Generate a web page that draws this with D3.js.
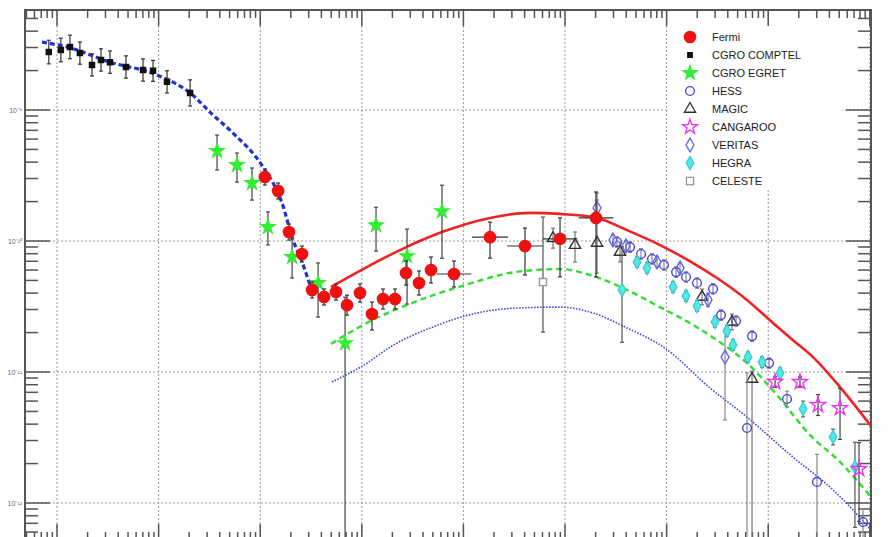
<!DOCTYPE html>
<html>
<head>
<meta charset="utf-8" />
<title>Crab SED</title>
<style>
  body { margin: 0; background: #fff; }
  svg { display: block; }
  .grid line { stroke: #9a9a9a; stroke-width: 1; stroke-dasharray: 2,2; }
  .axis line { stroke: #555; stroke-width: 1.5; }
  .frame { fill: none; stroke: #555; stroke-width: 2; }
  .legend text { font: 11px "Liberation Sans", Arial, sans-serif; fill: #222; }
  .ylab { font: 7px "Liberation Sans", Arial, sans-serif; fill: #666; }
</style>
</head>
<body>
<svg id="chart" width="895" height="537"></svg>
<script src="https://cdn.jsdelivr.net/npm/d3@7"></script>
<script>
// energy in MeV, E^2 dN/dE in erg cm^-2 s^-1, errors in dex
var xLimits = [0.484, 1.027e8];
var yLimits = [5.22e-13, 5.80e-9];

var comptelE = [0.83, 1.09, 1.34, 1.68, 2.21, 2.71, 3.32, 4.77, 7.02, 8.81, 12.1, 20.4];
var comptelF = [2.77e-9, 2.87e-9, 3.03e-9, 2.72e-9, 2.21e-9, 2.41e-9, 2.32e-9, 2.13e-9, 2.02e-9, 1.99e-9, 1.64e-9, 1.35e-9];
var comptelUp = [0.09, 0.09, 0.09, 0.085, 0.085, 0.085, 0.085, 0.085, 0.085, 0.08, 0.085, 0.1];
var comptelDn = comptelUp;

var egretE = [37.6, 59.1, 83.0, 119, 206, 371, 684, 1380, 2786, 6152];
var egretF = [4.86e-10, 3.80e-10, 2.77e-10, 1.28e-10, 7.55e-11, 4.78e-11, 1.66e-11, 1.32e-10, 7.67e-11, 1.69e-10];
var egretUp = [0.122, 0.092, 0.115, 0.115, 0.145, 0.153, 0.351, 0.137, 0.206, 0.198];
var egretDn = [0.145, 0.130, 0.130, 0.137, 0.160, 0.260, 2.0, 0.198, 0.366, 0.359];

var fermiE = [111, 150, 192, 258, 324, 425, 557, 715, 960, 1259, 1617, 2123, 2723, 3656, 4797, 8075, 18270, 40370, 89300, 201800];
var fermiF = [3.08e-10, 2.41e-10, 1.17e-10, 7.96e-11, 4.23e-11, 3.74e-11, 4.08e-11, 3.24e-11, 4.01e-11, 2.77e-11,
              3.61e-11, 3.61e-11, 5.70e-11, 4.78e-11, 6.01e-11, 5.60e-11, 1.07e-10, 9.16e-11, 1.04e-10, 1.50e-10];
var fermiUp = [0.061, 0.061, 0.061, 0.061, 0.061, 0.061, 0.061, 0.076, 0.069, 0.092, 0.076, 0.076, 0.092, 0.092, 0.099, 0.099, 0.115, 0.137, 0.160, 0.198];
var fermiDn = [0.061, 0.061, 0.061, 0.061, 0.061, 0.061, 0.061, 0.076, 0.069, 0.122, 0.076, 0.076, 0.092, 0.092, 0.099, 0.099, 0.160, 0.221, 0.290, 0.450];
var fermiEerr = [0, 0, 0, 0, 0, 0, 0, 0, 0, 0, 0, 0, 0, 0, 0, 0.17, 0.177, 0.177, 0.17, 0.17];

var hessE = [325000, 436500, 559800, 717800, 941900, 1.239e6, 1.553e6, 1.991e6, 2.864e6, 3.430e6, 4.818e6, 6.18e6, 6.934e6, 1.019e7, 1.531e7, 3.02e7, 8.57e7];
var hessF = [9.82e-11, 8.99e-11, 7.96e-11, 7.29e-11, 6.56e-11, 5.79e-11, 5.31e-11, 4.78e-11, 4.31e-11, 2.72e-11, 2.45e-11, 3.74e-12, 1.88e-11, 1.17e-11, 6.22e-12, 1.45e-12, 7.16e-13];
var hessUp = [0.04, 0.04, 0.04, 0.04, 0.04, 0.04, 0.04, 0.04, 0.04, 0.04, 0.04, 0.42, 0.04, 0.04, 0.06, 0.21, 0.1];
var hessDn = [0.04, 0.04, 0.04, 0.04, 0.04, 0.04, 0.04, 0.04, 0.04, 0.04, 0.04, 1.5, 0.04, 0.04, 0.06, 1.5, 0.3];

var magicE = [76200, 125400, 206500, 347600, 2.23e6, 4.40e6, 6.93e6];
var magicF = [1.05e-10, 9.31e-11, 9.66e-11, 8.24e-11, 3.74e-11, 2.41e-11, 8.85e-12];
var magicUp = [0.076, 0.10, 0.38, 0.076, 0.06, 0.06, 0.06];
var magicDn = [0.076, 0.13, 0.23, 0.076, 0.06, 0.06, 1.5];

var cangarooE = [1.167e7, 2.055e7, 3.09e7, 5.09e7, 7.83e7];
var cangarooF = [8.39e-12, 8.39e-12, 5.60e-12, 5.31e-12, 1.82e-12];
var cangarooUp = [0.04, 0.04, 0.08, 0.15, 0.2];
var cangarooDn = [0.04, 0.04, 0.08, 0.24, 0.4];

var veritasE = [206500, 296500, 398100, 805400, 1.355e6, 2.553e6, 3.758e6];
var veritasF = [1.79e-10, 1.02e-10, 9.16e-11, 6.92e-11, 6.22e-11, 3.55e-11, 1.30e-11];
var veritasUp = [0.06, 0.04, 0.04, 0.04, 0.04, 0.05, 0.21];
var veritasDn = [0.06, 0.04, 0.04, 0.04, 0.04, 0.05, 0.48];

var hegraE = [364000, 511600, 641300, 1.157e6, 1.553e6, 1.991e6, 2.994e6, 3.926e6, 4.506e6, 6.326e6, 8.69e6, 1.306e7, 2.202e7, 4.345e7, 7.14e7];
var hegraF = [4.23e-11, 6.92e-11, 6.22e-11, 4.46e-11, 3.80e-11, 3.19e-11, 2.41e-11, 2.06e-11, 1.61e-11, 1.30e-11, 1.19e-11, 9.82e-12, 5.22e-12, 3.19e-12, 1.88e-12];
var hegraUp = [0.33, 0.04, 0.04, 0.04, 0.04, 0.04, 0.04, 0.04, 0.04, 0.04, 0.04, 0.04, 0.06, 0.06, 0.19];
var hegraDn = [0.40, 0.04, 0.04, 0.04, 0.04, 0.04, 0.04, 0.04, 0.04, 0.04, 0.04, 0.04, 0.06, 0.06, 0.46];

var celesteE = [60700];
var celesteF = [4.86e-11];
var celesteUp = [0.496];
var celesteDn = [0.382];

// model curves
var synchE = [0.711, 1.25, 3.32, 9.64, 20.4, 34.3, 54.0, 106.6, 164, 210, 258, 309];
var synchF = [3.30e-9, 3.03e-9, 2.32e-9, 1.85e-9, 1.35e-9, 9.16e-10, 6.67e-10, 3.67e-10, 1.95e-10, 1.02e-10, 6.92e-11, 4.61e-11];

var icE = [497, 1075, 2377, 6152, 18270, 45290, 89300, 206500, 407400, 861000, 1.82e6, 3.133e6, 6.18e6, 1.114e7, 1.754e7, 2.76e7, 5.09e7, 1.028e8];
var icF = [4.46e-11, 6.22e-11, 8.53e-11, 1.17e-10, 1.50e-10, 1.64e-10, 1.61e-10, 1.50e-10, 1.21e-10, 9.31e-11, 6.79e-11, 5.22e-11, 3.55e-11, 2.37e-11, 1.75e-11, 1.30e-11, 7.67e-12, 3.87e-12];

var icMidE = [497, 1125, 3491, 10370, 32210, 89300, 188800, 407400, 861000, 1.82e6, 3.133e6, 6.18e6, 1.222e7, 2.578e7, 5.09e7, 1.028e8];
var icMidF = [1.64e-11, 2.37e-11, 3.48e-11, 4.61e-11, 5.79e-11, 6.11e-11, 5.41e-11, 4.23e-11, 3.13e-11, 2.29e-11, 1.75e-11, 1.17e-11, 6.67e-12, 3.30e-12, 2.06e-12, 1.11e-12];

var icLowE = [509, 1125, 1896, 5023, 13610, 33730, 89300, 188800, 407400, 964000, 2.673e6, 6.18e6, 1.754e7, 4.345e7, 1.028e8];
var icLowF = [8.39e-12, 1.17e-11, 1.55e-11, 2.21e-11, 2.82e-11, 3.08e-11, 3.13e-11, 2.82e-11, 2.17e-11, 1.52e-11, 7.55e-12, 4.53e-12, 2.24e-12, 1.26e-12, 6.22e-13];

var legendNames = ["Fermi", "CGRO COMPTEL", "CGRO EGRET", "HESS", "MAGIC", "CANGAROO", "VERITAS", "HEGRA", "CELESTE"];

var svg = d3.select("#chart");
var frame = {left: 25, right: 871, top: 10, bottom: 540};

var x = d3.scaleLog().domain(xLimits).range([frame.left, frame.right]);
var y = d3.scaleLog().domain(yLimits).range([frame.bottom, frame.top]);

function logTicks(dom) {
    var out = [];
    for (var k = Math.floor(Math.log10(dom[0])); k <= Math.ceil(Math.log10(dom[1])); k++) {
        for (var m = 1; m <= 9; m++) {
            var v = m * Math.pow(10, k);
            if (v >= dom[0] && v <= dom[1]) out.push({v: v, major: m === 1});
        }
    }
    return out;
}
var xt = logTicks(xLimits), yt = logTicks(yLimits);

// grid
var grid = svg.append("g").attr("class", "grid");
grid.selectAll(".gx").data(xt.filter(d => d.major)).enter().append("line")
    .attr("x1", d => x(d.v)).attr("x2", d => x(d.v))
    .attr("y1", frame.top).attr("y2", frame.bottom);
grid.selectAll(".gy").data(yt.filter(d => d.major)).enter().append("line")
    .attr("x1", frame.left).attr("x2", frame.right)
    .attr("y1", d => y(d.v)).attr("y2", d => y(d.v));

// legend box (white, covers grid)
var leg = svg.append("g").attr("class", "legend");
leg.append("rect").attr("x", 668).attr("y", 26).attr("width", 174).attr("height", 164).attr("fill", "#fff");

// axes ticks
var ax = svg.append("g").attr("class", "axis");
var ylen = {major: 25, minor: 13}, xlen = {major: 16, minor: 8};
ax.selectAll(".tl").data(yt).enter().append("line")
    .attr("x1", frame.left).attr("x2", d => frame.left + (d.major ? ylen.major : ylen.minor))
    .attr("y1", d => y(d.v)).attr("y2", d => y(d.v));
ax.selectAll(".tr").data(yt).enter().append("line")
    .attr("x1", frame.right).attr("x2", d => frame.right - (d.major ? ylen.major : ylen.minor))
    .attr("y1", d => y(d.v)).attr("y2", d => y(d.v));
ax.selectAll(".tt").data(xt).enter().append("line")
    .attr("x1", d => x(d.v)).attr("x2", d => x(d.v))
    .attr("y1", frame.top).attr("y2", d => frame.top + (d.major ? xlen.major : xlen.minor));
ax.selectAll(".tb").data(xt).enter().append("line")
    .attr("x1", d => x(d.v)).attr("x2", d => x(d.v))
    .attr("y1", frame.bottom).attr("y2", d => frame.bottom - (d.major ? xlen.major : xlen.minor));
svg.append("rect").attr("class", "frame")
    .attr("x", frame.left).attr("y", frame.top)
    .attr("width", frame.right - frame.left).attr("height", frame.bottom - frame.top);

// y tick labels, small in the narrow left margin
var sup = {"-": "\u207B", "0": "\u2070", "1": "\u00B9", "2": "\u00B2", "3": "\u00B3", "4": "\u2074",
           "5": "\u2075", "6": "\u2076", "7": "\u2077", "8": "\u2078", "9": "\u2079"};
svg.append("g")
    .selectAll("text").data(yt.filter(d => d.major)).enter().append("text")
    .attr("class", "ylab")
    .attr("x", 22).attr("y", d => y(d.v) + 3)
    .attr("text-anchor", "end")
    .text(d => "10" + String(Math.round(Math.log10(d.v))).split("").map(c => sup[c]).join(""));

// plot area
svg.append("clipPath").attr("id", "plotclip").append("rect")
    .attr("x", frame.left).attr("y", frame.top)
    .attr("width", frame.right - frame.left).attr("height", frame.bottom - frame.top);
var plot = svg.append("g").attr("clip-path", "url(#plotclip)");

function curve(es, fs) { return es.map((e, i) => [e, fs[i]]); }
var line = d3.line().x(d => x(d[0])).y(d => y(d[1])).curve(d3.curveMonotoneX);

plot.append("path").datum(curve(icLowE, icLowF)).attr("d", line)
    .attr("fill", "none").attr("stroke", "#3344e0").attr("stroke-width", 1.6).attr("stroke-dasharray", "1.5,1.5");
plot.append("path").datum(curve(icMidE, icMidF)).attr("d", line)
    .attr("fill", "none").attr("stroke", "#33dd33").attr("stroke-width", 2.4).attr("stroke-dasharray", "6,4");
plot.append("path").datum(curve(icE, icF)).attr("d", line)
    .attr("fill", "none").attr("stroke", "#ee2222").attr("stroke-width", 2.6);
plot.append("path").datum(curve(synchE, synchF)).attr("d", line)
    .attr("fill", "none").attr("stroke", "#2233cc").attr("stroke-width", 3.2).attr("stroke-dasharray", "5,3");

var series = [
    {name: "CELESTE", e: celesteE, f: celesteF, up: celesteUp, dn: celesteDn, sym: d3.symbolSquare, size: 50, fill: "#fff", stroke: "#999", bar: "#555"},
    {name: "CGRO COMPTEL", e: comptelE, f: comptelF, up: comptelUp, dn: comptelDn, sym: d3.symbolSquare, size: 26, fill: "#111", stroke: "#111", bar: "#333"},
    {name: "CGRO EGRET", e: egretE, f: egretF, up: egretUp, dn: egretDn, sym: d3.symbolStar, size: 60, fill: "#33ee33", stroke: "#33ee33", bar: "#444"},
    {name: "MAGIC", e: magicE, f: magicF, up: magicUp, dn: magicDn, sym: d3.symbolTriangle, size: 55, fill: "none", stroke: "#333", bar: "#777"},
    {name: "HESS", e: hessE, f: hessF, up: hessUp, dn: hessDn, sym: d3.symbolCircle, size: 60, fill: "none", stroke: "#4444dd", bar: "#888"},
    {name: "VERITAS", e: veritasE, f: veritasF, up: veritasUp, dn: veritasDn, sym: d3.symbolDiamond, size: 55, fill: "none", stroke: "#6666ee", bar: "#888"},
    {name: "HEGRA", e: hegraE, f: hegraF, up: hegraUp, dn: hegraDn, sym: d3.symbolDiamond, size: 50, fill: "#55e8e8", stroke: "#44cccc", bar: "#555"},
    {name: "CANGAROO", e: cangarooE, f: cangarooF, up: cangarooUp, dn: cangarooDn, sym: d3.symbolStar, size: 70, fill: "none", stroke: "#ee33ee", bar: "#444"},
    {name: "Fermi", e: fermiE, f: fermiF, up: fermiUp, dn: fermiDn, xe: fermiEerr, sym: d3.symbolCircle, size: 100, fill: "#ee1111", stroke: "#ee1111", bar: "#333"}
];

series.forEach(function(s) {
    var pts = s.e.map((e, i) => ({e: e, f: s.f[i], up: s.up[i], dn: s.dn[i], xe: s.xe ? s.xe[i] : 0}));
    var g = plot.append("g");
    var bars = g.append("g").attr("stroke", s.bar).attr("stroke-width", 1.2);
    pts.forEach(function(p) {
        var cx = x(p.e), y1 = y(p.f * Math.pow(10, p.up)), y0 = y(p.f / Math.pow(10, p.dn));
        bars.append("line").attr("x1", cx).attr("x2", cx).attr("y1", y1).attr("y2", y0);
        bars.append("line").attr("x1", cx - 2).attr("x2", cx + 2).attr("y1", y1).attr("y2", y1);
        bars.append("line").attr("x1", cx - 2).attr("x2", cx + 2).attr("y1", y0).attr("y2", y0);
        if (p.xe > 0) {
            var cy = y(p.f);
            bars.append("line").attr("x1", x(p.e / Math.pow(10, p.xe))).attr("x2", x(p.e * Math.pow(10, p.xe)))
                .attr("y1", cy).attr("y2", cy);
        }
    });
    g.selectAll("path").data(pts).enter().append("path")
        .attr("d", d3.symbol().type(s.sym).size(s.size))
        .attr("transform", d => "translate(" + x(d.e) + "," + y(d.f) + ")")
        .attr("fill", s.fill).attr("stroke", s.stroke).attr("stroke-width", 1.4);
});

// legend entries
var byName = {};
series.forEach(s => byName[s.name] = s);
legendNames.forEach(function(n, i) {
    var s = byName[n], ry = 37 + i * 18;
    leg.append("path")
        .attr("d", d3.symbol().type(s.sym).size(n === "CGRO COMPTEL" ? 20 : s.size))
        .attr("transform", "translate(690," + ry + ")")
        .attr("fill", s.fill).attr("stroke", s.stroke).attr("stroke-width", 1.3);
    leg.append("text").attr("x", 712).attr("y", ry + 4).text(n);
});
</script>
</body>
</html>
